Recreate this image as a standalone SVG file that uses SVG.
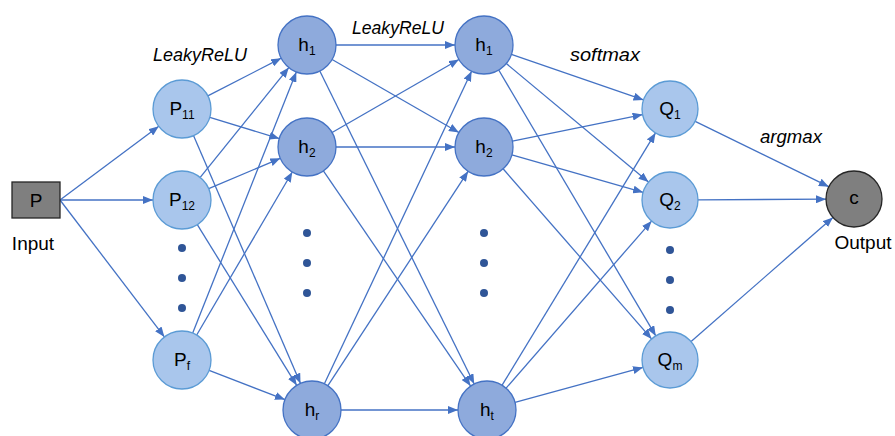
<svg xmlns="http://www.w3.org/2000/svg" width="895" height="436" viewBox="0 0 895 436">
<defs>
<marker id="arr" markerUnits="userSpaceOnUse" markerWidth="10" markerHeight="8" refX="10" refY="4" orient="auto">
<path d="M0,0 L10,4 L0,8 z" fill="#4472c4"/>
</marker>
<style>
.e{stroke:#4472c4;stroke-width:1.3;fill:none;marker-end:url(#arr)}
.lb{fill:#a9c6ec;stroke:#5b9bd5;stroke-width:1.3}
.hn{fill:#8eaadc;stroke:#4472c4;stroke-width:1.3}
.t{font-family:"Liberation Sans",Arial,sans-serif;font-size:19px;fill:#000;text-anchor:middle}
.s{font-size:12px}
.lab{font-family:"Liberation Sans",Arial,sans-serif;font-size:18px;font-style:italic;fill:#000}
.d{fill:#2f5597}
</style>
</defs>
<rect width="895" height="436" fill="#fff"/>
<g id="connectors">
<line class="e" x1="60" y1="200" x2="158.8" y2="126.3"/>
<line class="e" x1="60" y1="200" x2="153" y2="200"/>
<line class="e" x1="60" y1="200" x2="164.4" y2="336.9"/>
<line class="e" x1="207.8" y1="95.8" x2="281.2" y2="58.2"/>
<line class="e" x1="209.8" y1="117.4" x2="279.3" y2="138.6"/>
<line class="e" x1="193.5" y1="135.6" x2="300.5" y2="383.4"/>
<line class="e" x1="200.2" y1="177.4" x2="288.8" y2="67.6"/>
<line class="e" x1="208.7" y1="188.7" x2="280.3" y2="158.3"/>
<line class="e" x1="197.3" y1="224.7" x2="296.7" y2="385.3"/>
<line class="e" x1="192.7" y1="333" x2="296.3" y2="72"/>
<line class="e" x1="196.7" y1="335" x2="292.3" y2="172"/>
<line class="e" x1="209.1" y1="370.4" x2="284.9" y2="399.6"/>
<line class="e" x1="336" y1="45" x2="455" y2="45"/>
<line class="e" x1="332.1" y1="59.5" x2="458.9" y2="132.5"/>
<line class="e" x1="319.8" y1="71" x2="474.2" y2="384"/>
<line class="e" x1="332.1" y1="132.5" x2="458.9" y2="59.5"/>
<line class="e" x1="336" y1="147" x2="455" y2="147"/>
<line class="e" x1="323.4" y1="170.9" x2="470.6" y2="386.1"/>
<line class="e" x1="324.4" y1="383.8" x2="471.6" y2="71.2"/>
<line class="e" x1="327.9" y1="385.7" x2="468.1" y2="171.3"/>
<line class="e" x1="341" y1="410" x2="458" y2="410"/>
<line class="e" x1="511.4" y1="54.4" x2="643.5" y2="99.9"/>
<line class="e" x1="506.3" y1="63.6" x2="648.5" y2="182.1"/>
<line class="e" x1="498.7" y1="70" x2="655.8" y2="335.9"/>
<line class="e" x1="512.4" y1="141.2" x2="642.6" y2="114.6"/>
<line class="e" x1="511.9" y1="154.9" x2="643.1" y2="192.3"/>
<line class="e" x1="503.1" y1="168.8" x2="651.6" y2="338.9"/>
<line class="e" x1="502.1" y1="385.2" x2="655.5" y2="132.9"/>
<line class="e" x1="506.1" y1="388.1" x2="651.6" y2="221.1"/>
<line class="e" x1="515" y1="402.4" x2="643" y2="367.4"/>
<line class="e" x1="695.2" y1="121.3" x2="828.8" y2="186.7"/>
<line class="e" x1="698" y1="199.8" x2="826" y2="199.2"/>
<line class="e" x1="691.1" y1="341.6" x2="832.9" y2="217.4"/>
</g>
<g id="input">
<rect x="12" y="182" width="48" height="36" fill="#7f7f7f" stroke="#262626" stroke-width="1.3"/>
<text class="t" x="36" y="207" font-size="21">P</text>
<text class="t" x="33" y="250" font-size="18">Input</text>
</g>
<g id="p11"><circle class="lb" cx="182" cy="109" r="29"/><text class="t" x="182" y="115">P<tspan class="s" dy="4">11</tspan></text></g>
<g id="p12"><circle class="lb" cx="182" cy="200" r="29"/><text class="t" x="182" y="206">P<tspan class="s" dy="4">12</tspan></text></g>
<g id="pf"><circle class="lb" cx="182" cy="360" r="29"/><text class="t" x="182" y="366">P<tspan class="s" dy="4">f</tspan></text></g>
<g id="pdots"><circle class="d" cx="182" cy="248" r="4"/><circle class="d" cx="182" cy="278" r="4"/><circle class="d" cx="182" cy="308" r="4"/></g>
<g id="h1a"><circle class="hn" cx="307" cy="45" r="29"/><text class="t" x="307" y="51">h<tspan class="s" dy="4">1</tspan></text></g>
<g id="h2a"><circle class="hn" cx="307" cy="147" r="29"/><text class="t" x="307" y="153">h<tspan class="s" dy="4">2</tspan></text></g>
<g id="hr"><circle class="hn" cx="312" cy="410" r="29"/><text class="t" x="312" y="416">h<tspan class="s" dy="4">r</tspan></text></g>
<g id="hadots"><circle class="d" cx="307" cy="233" r="4"/><circle class="d" cx="307" cy="263" r="4"/><circle class="d" cx="307" cy="293" r="4"/></g>
<g id="h1b"><circle class="hn" cx="484" cy="45" r="29"/><text class="t" x="484" y="51">h<tspan class="s" dy="4">1</tspan></text></g>
<g id="h2b"><circle class="hn" cx="484" cy="147" r="29"/><text class="t" x="484" y="153">h<tspan class="s" dy="4">2</tspan></text></g>
<g id="ht"><circle class="hn" cx="487" cy="410" r="29"/><text class="t" x="487" y="416">h<tspan class="s" dy="4">t</tspan></text></g>
<g id="hbdots"><circle class="d" cx="484" cy="233" r="4"/><circle class="d" cx="484" cy="263" r="4"/><circle class="d" cx="484" cy="293" r="4"/></g>
<g id="q1"><circle class="lb" cx="670" cy="109" r="28"/><text class="t" x="670" y="115">Q<tspan class="s" dy="4">1</tspan></text></g>
<g id="q2"><circle class="lb" cx="670" cy="200" r="28"/><text class="t" x="670" y="206">Q<tspan class="s" dy="4">2</tspan></text></g>
<g id="qm"><circle class="lb" cx="670" cy="360" r="28"/><text class="t" x="670" y="366">Q<tspan class="s" dy="4">m</tspan></text></g>
<g id="qdots"><circle class="d" cx="670" cy="250" r="4"/><circle class="d" cx="670" cy="280" r="4"/><circle class="d" cx="670" cy="310" r="4"/></g>
<g id="output">
<circle cx="854" cy="199" r="28" fill="#7f7f7f" stroke="#262626" stroke-width="1.3"/>
<text class="t" x="854" y="204" font-size="17">c</text>
<text class="t" x="863" y="249" font-size="18">Output</text>
</g>
<g id="labels">
<text class="lab" x="153" y="61" textLength="94" lengthAdjust="spacingAndGlyphs">LeakyReLU</text>
<text class="lab" x="352" y="34" textLength="92" lengthAdjust="spacingAndGlyphs">LeakyReLU</text>
<text class="lab" x="570" y="61" textLength="70" lengthAdjust="spacingAndGlyphs">softmax</text>
<text class="lab" x="760" y="143" textLength="62" lengthAdjust="spacingAndGlyphs">argmax</text>
</g>
</svg>
